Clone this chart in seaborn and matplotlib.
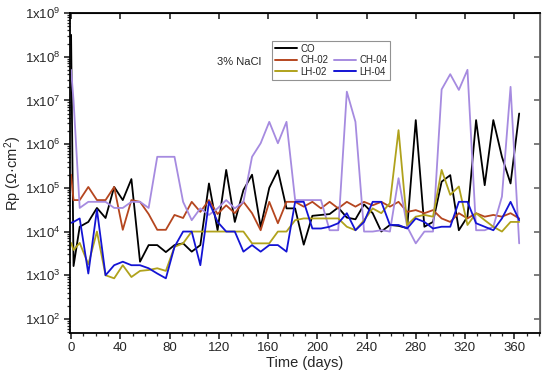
import numpy as np
import pandas as pd
import matplotlib
matplotlib.use("Agg")
import matplotlib.pyplot as plt
import seaborn as sns
from matplotlib.ticker import MultipleLocator, FuncFormatter, FixedLocator, NullLocator
from matplotlib.lines import Line2D

# measurement days (common to all samples)
days = [0, 2] + list(range(7, 365, 7))

# log10 of Rp (Ohm cm2)
co_log = [8.5, 3.21, 4.11, 4.22, 4.54, 4.31, 5.02, 4.72, 5.2, 3.31,
          3.69, 3.69, 3.53, 3.69, 3.73, 3.54, 3.69, 5.1, 4.03, 5.41,
          4.22, 4.95, 5.3, 4.1, 5.0, 5.4, 4.53, 4.53, 3.7, 4.36,
          4.38, 4.4, 4.55, 4.32, 4.28, 4.62, 4.42, 4.0, 4.15, 4.13,
          4.08, 6.55, 4.11, 4.22, 5.14, 5.29, 4.03, 4.34, 6.55, 5.06,
          6.55, 5.71, 5.1, 6.7]
ch02_log = [5.3, 4.72, 4.72, 5.02, 4.72, 4.72, 5.02, 4.04, 4.72, 4.68,
            4.4, 4.04, 4.04, 4.38, 4.31, 4.68, 4.45, 4.72, 4.4, 4.6,
            4.42, 4.68, 4.42, 4.03, 4.68, 4.19, 4.68, 4.68, 4.57, 4.68,
            4.53, 4.68, 4.53, 4.68, 4.57, 4.68, 4.6, 4.68, 4.57, 4.68,
            4.45, 4.49, 4.42, 4.49, 4.30, 4.22, 4.42, 4.30, 4.42, 4.34,
            4.38, 4.34, 4.42, 4.30]
ch04_log = [7.7, 7.0, 4.54, 4.68, 4.68, 4.68, 4.54, 4.54, 4.68, 4.68,
            4.54, 5.71, 5.71, 5.71, 4.68, 4.26, 4.53, 4.38, 4.53, 4.72,
            4.53, 4.68, 5.71, 6.02, 6.51, 6.02, 6.51, 4.72, 4.72, 4.72,
            4.72, 4.03, 4.03, 7.2, 6.51, 4.0, 4.0, 4.03, 4.0, 5.22,
            4.11, 3.73, 4.0, 4.0, 7.25, 7.6, 7.24, 7.7, 4.03, 4.03,
            4.11, 4.8, 7.31, 3.73]
lh02_log = [3.74, 3.58, 3.74, 3.25, 4.0, 3.0, 2.93, 3.23, 2.96, 3.1,
            3.12, 3.16, 3.1, 3.65, 3.73, 4.0, 4.0, 4.0, 4.0, 4.0,
            4.0, 4.0, 3.73, 3.73, 3.73, 4.0, 4.0, 4.26, 4.3, 4.3,
            4.3, 4.3, 4.3, 4.11, 4.03, 4.26, 4.53, 4.42, 4.65, 6.32,
            4.15, 4.34, 4.38, 4.34, 5.41, 4.84, 5.03, 4.15, 4.42, 4.26,
            4.11, 4.0, 4.22, 4.22]
lh04_log = [4.2, 4.22, 4.3, 3.04, 4.5, 3.0, 3.23, 3.31, 3.23, 3.23,
            3.16, 3.04, 2.93, 3.65, 4.0, 4.0, 3.23, 4.68, 4.22, 4.0,
            4.0, 3.54, 3.69, 3.54, 3.69, 3.69, 3.54, 4.68, 4.68, 4.07,
            4.07, 4.11, 4.19, 4.42, 4.03, 4.22, 4.68, 4.68, 4.15, 4.15,
            4.07, 4.3, 4.22, 4.07, 4.11, 4.11, 4.68, 4.68, 4.19, 4.11,
            4.03, 4.3, 4.68, 4.26]

samples = ["CO", "CH-02", "CH-04", "LH-02", "LH-04"]
colors = {"CO": "#000000", "CH-02": "#b5461f", "CH-04": "#a68be0",
          "LH-02": "#b0a21c", "LH-04": "#1414d4"}
series = [co_log, ch02_log, ch04_log, lh02_log, lh04_log]

y_decades = [1e2, 1e3, 1e4, 1e5, 1e6, 1e7, 1e8, 1e9]

frames = []
for name, vals in zip(samples, series):
    frames.append(pd.DataFrame({"day": days, "Rp": 10 ** np.array(vals), "sample": name}))
df = pd.concat(frames, ignore_index=True)

sns.set_style("ticks")
plt.rcParams["font.family"] = ["Liberation Sans", "DejaVu Sans"]
plt.rcParams["mathtext.fontset"] = "custom"
plt.rcParams["mathtext.rm"] = "Liberation Sans"
plt.rcParams["mathtext.it"] = "Liberation Sans:italic"

fig = plt.figure(figsize=(5.5, 3.82), dpi=100)
ax = fig.add_axes([0.127, 0.128, 0.855, 0.838])

sns.lineplot(data=df, x="day", y="Rp", hue="sample", hue_order=samples,
             palette=colors, linewidth=1.3, ax=ax, legend=False, sort=False)

ax.set_yscale("log")
ax.set_xlim(-1, 381)
ax.set_ylim(47.5, 1e9)

# minor log ticks (2..9 per decade) inside the visible range
minor_y = [m * d for d in [1e1] + y_decades[:-1] for m in range(2, 10) if 47.5 <= m * d <= 1e9]

ax.xaxis.set_major_locator(MultipleLocator(40))
ax.xaxis.set_minor_locator(MultipleLocator(10))
ax.yaxis.set_major_locator(FixedLocator(y_decades))
ax.yaxis.set_minor_locator(FixedLocator(minor_y))
ax.yaxis.set_major_formatter(FuncFormatter(lambda v, p: r"1x10$^{%d}$" % round(np.log10(v))))
ax.yaxis.set_minor_formatter(FuncFormatter(lambda v, p: ""))

ax.tick_params(which="major", direction="out", length=4, width=1.2, labelsize=9.5, pad=2.5)
ax.tick_params(which="minor", direction="out", length=2.2, width=0.9)
for s in ["left", "bottom", "top"]:
    ax.spines[s].set_linewidth(1.3)
    ax.spines[s].set_color("black")
ax.spines["right"].set_linewidth(1.3)
ax.spines["right"].set_color("#666666")

top = ax.secondary_xaxis("top")
top.xaxis.set_major_locator(MultipleLocator(40))
top.xaxis.set_minor_locator(NullLocator())
top.tick_params(direction="in", length=4, width=1.2, labeltop=False)
right = ax.secondary_yaxis("right")
right.yaxis.set_major_locator(FixedLocator(y_decades))
right.yaxis.set_minor_locator(NullLocator())
right.tick_params(direction="in", length=4, width=1.2, labelright=False, color="#666666")

ax.set_xlabel("Time (days)", fontsize=10.5, labelpad=1)
ax.set_ylabel("Rp (Ω·cm$^{2}$)", fontsize=10.5, labelpad=1)

handles = [Line2D([], [], color=colors[n], lw=1.4) for n in ["CO", "CH-02", "LH-02"]]
handles += [Line2D([], [], color="none"), Line2D([], [], color=colors["CH-04"], lw=1.4),
            Line2D([], [], color=colors["LH-04"], lw=1.4)]
labels = ["CO", "CH-02", "LH-02", "", "CH-04", "LH-04"]
leg = ax.legend(handles, labels, ncol=2, loc="upper left", bbox_to_anchor=(0.43, 0.913),
                borderaxespad=0, fontsize=7, handlelength=2.3, handletextpad=0.3,
                columnspacing=0.6, labelspacing=0.15, borderpad=0.3,
                frameon=True, fancybox=False, edgecolor="#777777")
leg.get_frame().set_linewidth(0.8)
ax.text(0.313, 0.847, "3% NaCl", transform=ax.transAxes, fontsize=8, va="center")

fig.savefig("out.png", dpi=100)
